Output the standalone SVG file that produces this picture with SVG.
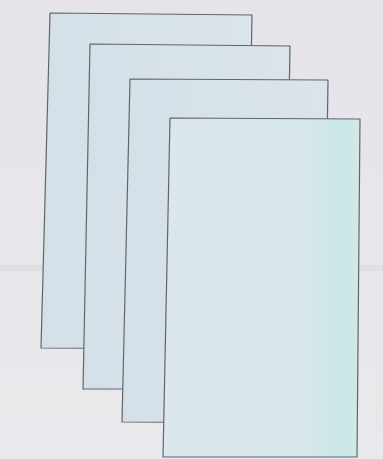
<svg xmlns="http://www.w3.org/2000/svg" width="383" height="459" viewBox="0 0 383 459">
<style>
.sheet{stroke:#60656c;stroke-width:1.2;stroke-linejoin:round}
</style>
<defs>
<linearGradient id="bg" x1="0" y1="0" x2="0" y2="1">
<stop offset="0" stop-color="#e6e3ea"/>
<stop offset="1" stop-color="#e9e9ec"/>
</linearGradient>
<linearGradient id="paper" x1="0" y1="0" x2="1" y2="0">
<stop offset="0" stop-color="#d4e0e8"/>
<stop offset="1" stop-color="#dbe4ea"/>
</linearGradient>
<linearGradient id="front" x1="0" y1="0" x2="1" y2="0">
<stop offset="0" stop-color="#dce6ec"/>
<stop offset="0.75" stop-color="#d6e6ea"/>
<stop offset="0.92" stop-color="#c8e7e4"/>
<stop offset="1" stop-color="#d4e8e8"/>
</linearGradient>
</defs>
<rect width="383" height="459" fill="url(#bg)"/>
<rect x="0" y="265" width="383" height="6" fill="#d4d4da" opacity="0.45"/>
<g id="sheet1"><polygon class="sheet" points="50,13 252,15 246,349 41,348" fill="url(#paper)"/></g>
<g id="sheet2"><polygon class="sheet" points="90,44 290,46 284,389 83,389" fill="url(#paper)"/></g>
<g id="sheet3"><polygon class="sheet" points="130,79 328,80 323,423 122,422" fill="url(#paper)"/></g>
<g id="sheet4"><polygon class="sheet" points="170,118 360,119 357,457 163,457" fill="url(#front)"/></g>
<g id="connectors"/>
</svg>
